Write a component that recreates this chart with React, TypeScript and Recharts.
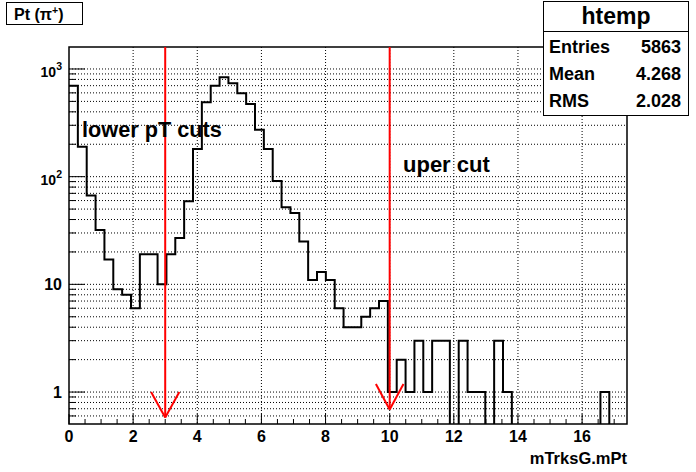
import React from 'react';
import { ComposedChart, Line, XAxis, YAxis, CartesianGrid, ReferenceLine, ReferenceArea } from 'recharts';

// htemp: 63 bins of mTrksG.mPt between 0 and 17.4
const xMin = 0;
const xMax = 17.4;
const binCounts = [
  700, 190, 67, 32, 17, 9, 8, 6, 19, 19, 10, 19, 27, 59, 181, 490,
  700, 836, 736, 594, 474, 272, 181, 91, 52, 46, 25, 11, 13, 11, 6, 4,
  4, 5, 6, 7, 1, 2, 1, 3, 1, 3, 3, 0, 3, 1, 1, 0, 3, 1, 0, 0,
  0, 0, 0, 0, 0, 0, 0, 0, 1, 0, 0,
];
const xTicks = Array.from({ length: 35 }, (_, i) => i * 0.5);
const xLabels = [0, 2, 4, 6, 8, 10, 12, 14, 16];
const yDomain = [0.505, 1600];
const yTicks = [
  0.6, 0.7, 0.8, 0.9,
  1, 2, 3, 4, 5, 6, 7, 8, 9,
  10, 20, 30, 40, 50, 60, 70, 80, 90,
  100, 200, 300, 400, 500, 600, 700, 800, 900,
  1000,
];
const yLabels = [1, 10, 100, 1000];
const statLabels = ['Entries', 'Mean', 'RMS'];
const statValues = ['5863', '4.268', '2.028'];
const cuts = [
  { x: 3, tip: 0.58, armDx: 0.44, armY: 1.0 },
  { x: 10, tip: 0.69, armDx: 0.43, armY: 1.19 },
];

const FONT = '"Liberation Sans", Arial, Helvetica, sans-serif';
const binW = (xMax - xMin) / binCounts.length;

// empty bins drop below the frame, like ROOT draws them on the bottom axis
const histData = binCounts.map((c, i) => ({ x: xMin + i * binW, y: c > 0 ? c : 0.3 }));
histData.push({ x: xMax, y: histData[histData.length - 1].y });

const XTick = (props: any) => {
  const { x, y, payload } = props;
  const v = Math.round(payload.value * 10) / 10;
  const major = xLabels.includes(v);
  return (
    <g>
      <line x1={x} x2={x} y1={y} y2={y - (major ? 10 : 5)} stroke="#000" />
      {major && (
        <text x={x} y={y + 18} textAnchor="middle" fontFamily={FONT} fontWeight="bold" fontSize={16} fill="#000">
          {v}
        </text>
      )}
    </g>
  );
};

const YTick = (props: any) => {
  const { x, y, payload } = props;
  const v = payload.value;
  const major = yLabels.some((l) => Math.abs(l - v) < 1e-6);
  let label: React.ReactNode = null;
  if (major) {
    const exp = Math.round(Math.log10(v));
    if (exp >= 2) {
      label = (
        <text x={x - 7} y={y + 8} textAnchor="end" fontFamily={FONT} fontWeight="bold" fontSize={14} fill="#000">
          10<tspan fontSize={10.5} dy={-7}>{exp}</tspan>
        </text>
      );
    } else {
      label = (
        <text x={x - 7} y={y + 6} textAnchor="end" fontFamily={FONT} fontWeight="bold" fontSize={16} fill="#000">
          {v}
        </text>
      );
    }
  }
  return (
    <g>
      <line x1={x} x2={x + (major ? 16 : 7)} y1={y} y2={y} stroke="#000" />
      {label}
    </g>
  );
};

export default function App() {
  return (
    <div style={{ position: 'absolute', left: 0, top: 0, width: 696, height: 472, background: '#fff' }}>
      <ComposedChart width={696} height={472} data={histData} margin={{ top: 47, right: 69, bottom: 0, left: 0 }}>
        <CartesianGrid
          stroke="#000"
          strokeDasharray="1 2"
          horizontalValues={yTicks}
          verticalValues={xLabels.filter((v) => v > 0)}
        />
        <XAxis
          dataKey="x"
          type="number"
          domain={[xMin, xMax]}
          ticks={xTicks}
          interval={0}
          allowDataOverflow
          height={48}
          tickSize={0}
          tickMargin={0}
          tickLine={false}
          axisLine={false}
          tick={<XTick />}
        />
        <YAxis
          type="number"
          scale="log"
          domain={yDomain}
          ticks={yTicks}
          interval={0}
          allowDataOverflow
          width={69}
          tickSize={0}
          tickMargin={0}
          tickLine={false}
          axisLine={false}
          tick={<YTick />}
        />
        <Line
          dataKey="y"
          type="stepAfter"
          stroke="#000"
          strokeWidth={2}
          dot={false}
          activeDot={false}
          isAnimationActive={false}
        />
        {cuts.map((c) => (
          <ReferenceLine
            key={`v${c.x}`}
            segment={[{ x: c.x, y: yDomain[1] }, { x: c.x, y: c.tip }]}
            stroke="#ff0000"
            strokeWidth={2}
          />
        ))}
        {cuts.map((c) => (
          <ReferenceLine
            key={`l${c.x}`}
            segment={[{ x: c.x - c.armDx, y: c.armY }, { x: c.x, y: c.tip }]}
            stroke="#ff0000"
            strokeWidth={2}
          />
        ))}
        {cuts.map((c) => (
          <ReferenceLine
            key={`r${c.x}`}
            segment={[{ x: c.x + c.armDx, y: c.armY }, { x: c.x, y: c.tip }]}
            stroke="#ff0000"
            strokeWidth={2}
          />
        ))}
        <ReferenceArea x1={xMin} x2={xMax} y1={yDomain[0]} y2={yDomain[1]} fill="none" stroke="#000" strokeWidth={1.5} ifOverflow="visible" />
      </ComposedChart>
      <svg width={696} height={472} style={{ position: 'absolute', left: 0, top: 0, pointerEvents: 'none' }}>
        <g fontFamily={FONT} fontWeight="bold" fill="#000">
          <rect x={6.5} y={2.5} width={76} height={22} fill="#fff" stroke="#000" />
          <text x={14} y={20} fontSize={16}>
            Pt (π<tspan fontSize={10.5} dy={-6}>+</tspan><tspan dy={6}>)</tspan>
          </text>

          <rect x={543.5} y={1.5} width={145} height={114} fill="#fff" stroke="#000" />
          <line x1={543.5} x2={688.5} y1={31.5} y2={31.5} stroke="#000" />
          <text x={616} y={24} fontSize={23} textAnchor="middle">htemp</text>
          {statLabels.map((l, i) => (
            <text key={l} x={549} y={53 + i * 27} fontSize={18}>{l}</text>
          ))}
          {statValues.map((v, i) => (
            <text key={v} x={681} y={53 + i * 27} fontSize={18} textAnchor="end">{v}</text>
          ))}

          <text x={82} y={137} fontSize={21.7}>lower pT cuts</text>
          <text x={403} y={172} fontSize={22}>uper cut</text>
          <text x={627} y={464} fontSize={16.5} textAnchor="end">mTrksG.mPt</text>
        </g>
      </svg>
    </div>
  );
}
